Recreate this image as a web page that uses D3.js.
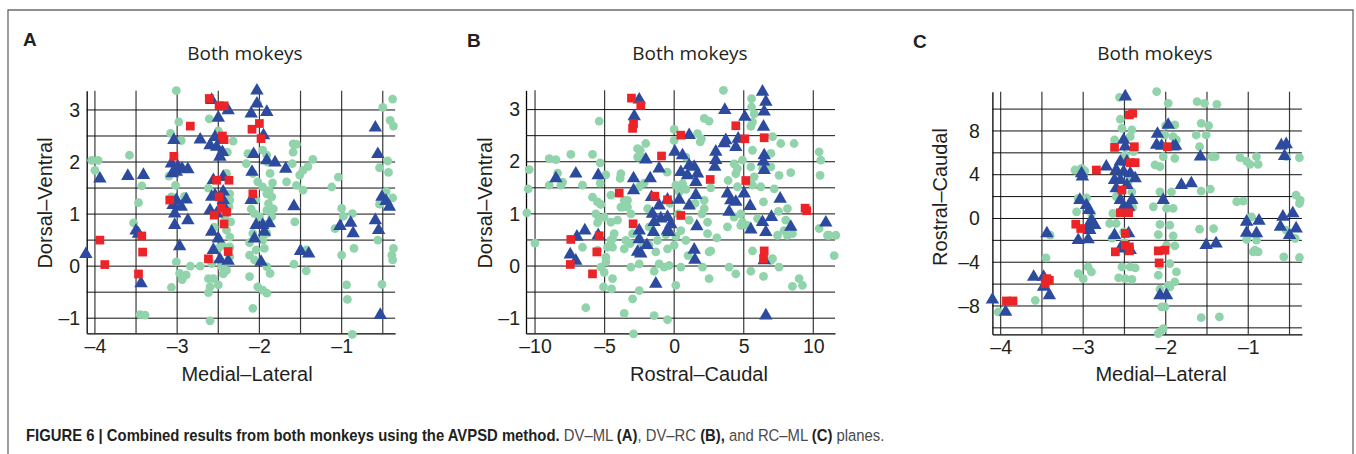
<!DOCTYPE html>
<html><head><meta charset="utf-8">
<script src="https://cdn.jsdelivr.net/npm/d3@7"></script>
<style>body{margin:0;background:#fff}svg{display:block}</style>
</head><body>
<svg id="chart" width="1356" height="454"></svg>
<script>
// ---------- Panel A : Medial-Lateral (x) vs Dorsal-Ventral (y) ----------
const greenA = [
[-4.04,2.03],[-3.96,2.03],[-4.0,1.84],[-3.58,2.13],[-3.43,1.54],[-3.47,1.22],[-3.53,0.83],[-3.45,-0.93],[-3.39,-0.94],
[-3.01,3.37],[-2.98,2.77],[-3.08,2.55],[-2.95,2.41],[-3.1,1.73],[-3.02,1.55],[-3.07,1.33],[-2.91,1.34],[-3.01,0.08],[-2.84,0.0],[-2.97,-0.14],[-2.89,-0.17],[-2.94,-0.26],[-3.07,-0.41],[-2.72,0.0],
[-2.61,2.83],[-2.5,2.6],[-2.39,2.19],[-2.62,-0.24],[-2.56,-0.24],[-2.6,-0.4],[-2.5,-0.36],[-2.62,-0.51],[-2.6,-1.05],[-2.46,-0.01],[-2.4,-0.08],[-2.36,0.18],[-2.36,0.37],[-2.36,0.56],[-2.4,0.69],[-2.36,1.39],[-2.36,1.27],[-2.37,1.14],[-2.4,1.78],[-2.62,1.5],[-2.42,0.95],[-2.55,0.75],[-2.45,0.4],[-2.5,0.34],[-2.35,0.85],[-2.58,0.05],[-2.44,-0.15],[-2.32,2.4],
[-2.02,3.12],[-1.96,2.23],[-1.91,2.13],[-2.14,2.16],[-2.16,1.97],[-2.08,1.78],[-1.87,1.78],[-2.02,1.62],[-1.96,1.52],[-1.91,1.39],[-1.85,1.33],[-2.04,1.27],[-1.89,1.2],[-1.91,1.07],[-2.06,1.01],[-2.0,0.95],[-1.85,0.95],[-2.08,0.63],[-1.96,0.5],[-1.91,0.63],[-2.04,0.31],[-1.94,0.34],[-2.12,0.21],[-2.06,0.12],[-1.91,-0.01],[-1.87,-0.14],[-2.12,-0.2],[-2.02,-0.4],[-1.96,-0.46],[-1.91,-0.52],[-2.08,-0.81],
[-1.84,1.6],[-1.88,1.45],[-2.1,1.1],[-1.92,0.8],[-1.83,1.1],[-2.12,0.45],[-1.9,2.0],[-2.08,2.16],
[-1.59,2.35],[-1.55,2.34],[-1.59,2.19],[-1.6,1.97],[-1.67,1.62],[-1.55,1.55],[-1.47,1.46],[-1.51,1.75],[-1.47,1.84],[-1.41,1.91],[-1.35,2.05],[-1.57,0.85],[-1.58,0.04],[-1.43,-0.09],[-1.43,0.31],
[-1.04,1.71],[-1.12,1.52],[-1.0,1.11],[-0.87,1.01],[-0.98,0.96],[-1.08,0.72],[-1.0,0.21],[-0.85,0.34],[-0.94,-0.36],[-0.93,-0.64],[-0.87,-1.31],
[-0.5,3.05],[-0.38,3.21],[-0.41,2.8],[-0.37,2.69],[-0.44,2.02],[-0.54,1.89],[-0.43,1.8],[-0.46,1.43],[-0.38,1.31],[-0.54,1.19],[-0.56,0.5],[-0.37,0.34],[-0.39,0.21],[-0.38,0.12],[-0.51,-0.35]
];
const blueA = [
[-4.11,0.23],[-3.94,1.68],[-3.6,1.73],[-3.41,1.75],[-3.5,0.68],[-3.47,0.62],[-3.44,-0.33],
[-3.04,2.42],[-2.72,2.43],[-3.07,1.97],[-2.99,1.91],[-2.94,1.87],[-2.87,1.86],[-3.06,1.78],[-3.01,1.81],[-3.01,1.27],[-3.05,1.17],[-2.95,1.14],[-2.89,1.28],[-3.03,1.01],[-2.87,0.88],[-3.03,0.79],[-2.97,0.38],
[-2.58,3.19],[-2.5,2.85],[-2.38,2.99],[-2.54,2.48],[-2.46,2.42],[-2.6,2.32],[-2.52,2.29],[-2.45,2.19],[-2.48,2.1],[-2.56,1.65],[-2.44,1.71],[-2.54,1.36],[-2.44,1.43],[-2.58,1.33],[-2.6,1.07],[-2.52,1.01],[-2.44,1.27],[-2.42,1.11],[-2.58,0.66],[-2.5,0.53],[-2.56,0.31],[-2.48,0.13],[-2.38,0.1],
[-2.03,3.37],[-2.03,3.12],[-2.1,2.93],[-1.91,2.96],[-1.95,2.51],[-2.07,2.15],[-2.09,1.81],[-1.91,2.03],[-1.81,1.99],[-1.68,1.87],[-2.1,1.27],[-2.04,0.79],[-1.96,0.79],[-1.88,0.82],[-1.94,0.66],[-2.06,0.53],[-1.98,0.08],
[-1.58,1.15],[-1.5,0.29],[-1.4,0.24],[-1.02,0.77],[-0.89,0.83],[-0.86,0.63],
[-0.59,2.66],[-0.56,2.15],[-0.51,1.33],[-0.46,1.25],[-0.42,1.14],[-0.59,0.88],[-0.55,0.69],[-0.53,-0.94]
];
const redA = [
[-3.94,0.5],[-3.88,0.03],[-3.43,0.58],[-3.42,0.27],[-3.47,-0.15],[-3.04,2.11],[-3.09,1.27],[-2.84,2.69],
[-2.61,3.22],[-2.49,3.08],[-2.43,3.08],[-2.45,2.5],[-2.43,2.43],[-2.52,1.65],[-2.37,1.65],[-2.49,1.33],[-2.46,1.11],[-2.4,1.04],[-2.55,0.98],[-2.43,0.81],[-2.38,0.28],[-2.62,0.14],
[-2.09,2.63],[-2.0,2.74],[-1.98,2.45],[-2.08,1.39]
];

// ---------- Panel B : Rostral-Caudal (x) vs Dorsal-Ventral (y) ----------
const greenB = [
[3.54,3.37],[5.56,3.21],[5.56,3.05],[5.75,2.92],[5.63,2.76],[5.51,2.68],[2.16,2.83],[2.51,2.78],[1.68,2.54],[1.96,2.44],[1.87,2.38],[0.0,2.62],[0.0,2.41],[-5.39,2.78],[-2.04,2.35],[-2.44,2.22],[-2.63,2.09],[-2.28,2.09],
[-8.98,2.06],[-8.5,2.04],[-7.43,2.14],[-5.87,2.14],[-5.32,1.98],[-10.42,1.85],[-10.49,1.48],[-10.59,1.02],[-10.01,0.44],[-8.98,1.55],[-8.02,1.61],[-8.38,1.78],[-8.14,1.55],[-6.59,1.55],[-5.32,1.59],[-4.91,1.75],[-3.83,1.77],[-3.88,1.68],
[-5.87,1.32],[-5.51,1.23],[-5.27,1.18],[-5.63,1.0],[-5.39,0.91],[-5.03,0.94],[-5.51,0.83],[-4.55,0.84],[-4.07,0.88],[-4.55,1.36],[-4.31,0.62],[-4.55,0.49],[-4.43,0.36],[-4.79,0.36],[-4.91,0.17],[-5.03,-0.12],[-5.08,-0.4],[-4.5,-0.44],[-4.43,-0.24],
[-3.47,0.49],[-3.59,0.33],[-3.35,1.13],[-3.71,1.13],[-3.35,1.26],[-3.11,1.0],[-2.99,0.62],[-3.16,0.43],[-3.11,-0.02],[-2.99,-0.63],[-2.92,-1.3],[-3.59,-0.91],[-6.35,-0.8],[-2.51,0.04],[-2.51,-0.47],
[-1.44,-0.1],[-1.08,0.04],[-0.72,-0.02],[-0.36,0.01],[-0.48,-1.03],[0.12,-0.37],[-1.44,-0.95],[0.0,0.4],[0.12,0.57],[0.48,0.68],[0.48,-0.02],[0.84,0.49],[0.48,1.52],[0.84,1.47],[0.6,1.58],
[2.16,1.26],[2.4,0.84],[2.4,0.62],[2.63,0.29],[2.51,-0.24],[3.07,0.54],[2.04,-0.02],[1.08,0.88],[3.95,-0.02],[4.43,-0.15],[5.51,-0.1],[5.63,0.29],[6.42,-0.2],[6.95,0.11],[7.54,-0.02],[8.5,-0.39],[8.98,-0.24],[9.22,-0.37],
[7.43,0.59],[7.9,0.68],[8.02,0.88],[8.14,1.1],[8.5,0.62],[7.54,1.74],[8.38,1.79],[7.66,2.35],[8.62,2.35],[7.07,2.48],[6.95,2.16],[6.95,1.9],[7.19,1.48],[5.75,1.71],[5.99,0.91],[6.23,1.52],[6.42,1.23],[4.79,1.0],[4.31,0.94],[4.91,0.84],
[4.31,1.96],[4.55,1.87],[4.91,2.03],[4.43,1.77],[4.55,1.52],[3.88,1.64],[10.42,2.19],[10.54,2.03],[10.49,1.74],[10.42,0.72],[11.02,0.59],[11.62,0.59],[11.5,0.2],[3.83,0.75],[0.84,2.09],[-2.51,1.52],[-2.16,1.59],[-2.63,2.25],
[-6.59,0.36],[-5.51,0.3],[-4.91,0.08],[-5.27,-0.02],[-4.43,0.52],[-2.51,0.52],[-2.28,0.4],[-0.48,0.33],[-1.2,0.49],[-1.8,0.4],[-1.32,0.27],[-3.59,1.26],[-3.83,1.13],
[-1.9,1.1],[-0.3,1.2],[-0.6,0.6],[-1.8,0.75],[-0.5,1.8],[0.3,1.0],[1.5,1.2],[2.0,1.0],[1.0,0.2],
[5.63,2.22],[6.35,1.87],[5.51,1.9],[5.27,1.61],[5.63,1.55],[2.63,1.5],[7.5,1.05],[8.14,0.59],[11.14,0.59],[7.07,0.14],[4.79,0.78],[5.27,0.78],[2.16,1.1],[0.12,1.55],[0.36,1.42],[2.51,0.27]
];
const blueB = [
[-2.51,3.19],[-2.87,2.87],[-8.5,1.68],[-7.07,1.77],[-5.46,1.74],[-2.92,1.68],[-2.92,1.45],[-1.72,1.68],[-2.04,2.04],[-1.08,1.87],
[-6.42,0.68],[-6.99,0.56],[-5.46,0.59],[-7.47,0.22],[-7.07,0.1],[-2.51,0.68],[-2.51,0.51],[-1.96,0.4],[-2.63,0.27],[-2.4,0.24],
[-1.63,1.32],[-1.08,1.16],[-1.56,1.0],[-0.96,0.91],[-1.44,0.84],[-0.48,0.94],[-0.24,0.8],[-0.48,0.68],[-1.49,0.65],[-0.36,0.65],[-1.32,-0.34],[-0.48,1.27],[0.36,1.27],
[1.08,1.16],[1.56,1.36],[1.63,0.76],[1.44,0.31],[1.49,0.12],[0.05,2.19],[0.6,2.12],[1.08,2.51],[0.48,1.8],[1.08,1.93],[1.44,1.9],[0.96,1.74],[1.68,1.77],[1.56,1.61],
[2.99,2.19],[2.99,2.03],[2.92,1.9],[3.59,2.35],[3.71,2.41],[3.64,2.99],[4.43,2.28],[4.6,2.44],[5.08,2.86],[3.83,1.39],[4.07,1.26],[4.43,1.23],[3.95,1.04],[5.03,1.39],[5.46,1.15],[5.51,0.7],
[6.35,3.34],[6.59,3.15],[6.47,2.96],[6.42,2.67],[6.47,2.12],[6.42,2.0],[6.47,1.84],[6.35,0.84],[6.59,0.65],[6.99,0.94],[7.62,1.29],[8.38,0.75],[10.9,0.83],[6.59,-0.95],[6.47,0.11]
];
const redB = [
[-3.07,3.22],[-2.4,3.08],[-2.92,2.73],[-2.99,2.64],[-0.91,2.11],[0.48,2.51],[-3.95,1.4],[-1.39,1.34],[-0.48,1.27],[0.48,0.97],[-2.95,0.81],
[-5.39,0.58],[-7.43,0.51],[-5.56,0.27],[-7.47,0.03],[-5.87,-0.15],[2.59,1.66],[4.43,2.69],[5.08,2.44],[6.47,2.46],[5.15,1.64],[9.41,1.11],[9.53,1.06],[6.47,0.29],[6.42,0.14]
];

// ---------- Panel C : Medial-Lateral (x) vs Rostral-Caudal (y) ----------
const greenC = [
[-2.11,11.6],[-2.56,11.08],[-1.97,10.53],[-1.62,10.69],[-1.53,10.53],[-1.38,10.44],[-2.55,9.07],[-2.53,8.24],[-2.41,8.09],[-2.62,7.18],[-2.43,7.48],[-2.49,5.8],[-2.39,6.11],
[-2.0,8.49],[-1.89,8.55],[-2.01,7.63],[-1.91,7.48],[-1.87,7.18],[-1.57,8.7],[-1.48,8.49],[-1.63,7.63],[-1.51,7.63],[-1.59,6.56],[-1.44,5.65],[-1.4,5.65],[-2.03,5.65],[-1.89,5.5],[-2.07,4.73],[-2.13,4.89],
[-1.1,5.56],[-1.02,5.25],[-0.9,5.65],[-0.98,4.95],[-0.88,4.95],[-0.54,5.65],[-0.38,5.56],
[-2.07,2.44],[-1.93,2.44],[-1.57,2.5],[-1.46,2.69],[-2.15,1.07],[-1.99,0.92],[-1.91,0.92],[-1.14,1.53],[-1.06,1.59],[-0.42,2.14],[-0.37,1.68],[-0.38,1.37],
[-2.07,-0.55],[-1.95,-0.61],[-2.09,-1.47],[-1.91,-1.59],[-1.99,-2.44],[-1.89,-2.5],[-1.59,-0.98],[-1.42,-0.92],[-0.92,-2.9],[-0.94,-3.05],[-0.88,-3.05],[-0.57,-3.51],[-0.38,-3.57],
[-2.07,-4.27],[-1.95,-4.12],[-1.87,-4.89],[-2.09,-5.19],[-1.89,-5.8],[-1.97,-6.11],[-2.07,-6.47],[-1.95,-6.26],[-2.05,-8.09],[-2.01,-8.09],[-1.57,-9.07],[-1.35,-9.0],[-2.09,-10.53],[-2.03,-10.08],[-2.07,-10.38],
[-3.1,4.43],[-3.02,4.58],[-2.98,4.34],[-3.06,1.83],[-2.96,1.89],[-3.08,0.61],[-2.9,0.46],[-3.06,-5.04],[-2.94,-4.43],[-3.0,-5.5],[-2.9,-4.89],
[-2.53,-4.43],[-2.43,-4.43],[-2.37,-4.52],[-2.57,-5.43],[-2.49,-5.5],[-2.41,-5.56],[-3.4,-1.53],[-3.45,-3.6],[-3.58,-7.48],[-4.03,-8.55],
[-2.68,-0.46],[-2.6,-0.46],[-2.64,0.46],[-2.51,-1.22],[-2.41,2.44],[-0.96,0.15],[-1.02,-1.92],[-0.9,-1.98],[-0.54,-1.07],[-0.43,-1.83],
[-2.45,3.4],[-2.6,2.0],[-2.4,1.0],[-2.5,-2.2],[-2.65,-1.8],[-2.55,2.4]
];
const blueC = [
[-2.49,11.15],[-2.51,7.18],[-2.49,6.56],[-2.1,7.73],[-1.97,8.55],[-2.11,6.72],[-2.05,6.63],[-1.91,6.56],[-1.88,6.63],[-1.58,5.65],[-0.6,6.66],[-0.54,6.78],[-0.56,5.71],
[-2.72,4.73],[-3.02,4.12],[-3.01,3.82],[-2.55,5.19],[-2.47,5.19],[-2.6,4.43],[-2.51,4.27],[-2.43,4.12],[-2.37,3.66],[-2.55,3.51],[-2.62,3.51],[-2.47,3.05],[-2.6,2.75],[-2.55,1.68],[-2.51,1.07],[-2.41,1.68],[-2.45,1.07],
[-3.04,1.68],[-2.96,1.22],[-2.93,0.76],[-2.9,-0.15],[-2.86,-0.61],[-2.94,-0.76],[-2.92,-1.07],[-3.06,-1.98],[-2.94,-1.92],[-3.44,-1.37],[-3.6,-5.34],[-3.48,-5.34],[-3.48,-6.26],[-3.41,-7.02],[-4.1,-7.42],[-3.94,-8.55],
[-2.62,-1.53],[-2.45,-1.37],[-2.43,-2.9],[-2.55,-2.75],[-2.03,1.68],[-2.07,-7.02],[-1.99,-7.02],[-1.81,3.05],[-1.69,3.2],[-1.51,-2.44],[-1.39,-2.29],
[-1.02,-0.31],[-0.87,-0.21],[-1.02,-1.31],[-0.9,-1.37],[-0.58,0.15],[-0.46,0.46],[-0.61,-0.76],[-0.5,-1.53],[-0.42,-0.92]
];
const redC = [
[-2.44,9.47],[-2.4,9.62],[-2.62,6.5],[-2.38,6.56],[-1.98,6.56],[-2.84,4.43],[-2.43,5.1],[-2.37,5.1],[-2.53,2.6],[-2.55,0.52],[-2.45,0.52],
[-3.09,-0.52],[-3.03,-0.92],[-2.49,-1.37],[-2.49,-2.44],[-2.44,-2.6],[-2.61,-3.05],[-2.44,-2.96],[-2.09,-2.96],[-2.01,-2.9],[-2.08,-4.06],
[-3.44,-5.5],[-3.41,-5.65],[-3.46,-5.95],[-3.93,-7.54],[-3.85,-7.54]
];

// ---------- axes: ticks and grid ----------
const xGridML = [-4,-3.5,-3,-2.5,-2,-1.5,-1,-0.5];
const xTicksML = [-4,-3,-2,-1];
const yGridDV = [-1,-0.5,0,0.5,1,1.5,2,2.5,3];
const yTicksDV = [-1,0,1,2,3];
const xGridRC = [-10,-5,0,5,10];
const xTicksRC = [-10,-5,0,5,10];
const yGridRC = [-10,-8,-6,-4,-2,0,2,4,6,8,10];
const yTicksRC = [-8,-4,0,4,8];

const panelLetters = ["A","B","C"];
const titles = ["Both mokeys","Both mokeys","Both mokeys"];
const xLabels = ["Medial\u2013Lateral","Rostral\u2013Caudal","Medial\u2013Lateral"];
const yLabels = ["Dorsal\u2013Ventral","Dorsal\u2013Ventral","Rostral\u2013Caudal"];

const COLORS = {green:"#91d4ac", blue:"#2d4b9e", red:"#ec2327"};

const panels = [
  {green:greenA, blue:blueA, red:redA, xd:[-4.1,-0.35], yd:[-1.29,3.37], xr:[86.7,395.1], yr:[333.3,90.7],
   xg:xGridML, yg:yGridDV, xt:xTicksML, yt:yTicksDV, letterX:23, letterY:46, titleX:245, xLabelX:247, yLabelX:51.7, yLabelY:203, yPad:6.5},
  {green:greenB, blue:blueB, red:redB, xd:[-10.65,11.56], yd:[-1.29,3.37], xr:[526,835], yr:[333.3,90.3],
   xg:xGridRC, yg:yGridDV, xt:xTicksRC, yt:yTicksDV, letterX:467, letterY:47, titleX:690, xLabelX:699, yLabelX:491.7, yLabelY:203, yPad:6},
  {green:greenC, blue:blueC, red:redC, xd:[-4.1,-0.35], yd:[-10.59,11.59], xr:[992.4,1301.9], yr:[334.3,91.7],
   xg:xGridML, yg:yGridRC, xt:xTicksML, yt:yTicksRC, letterX:913, letterY:48, titleX:1155, xLabelX:1161, yLabelX:946.7, yLabelY:197, yPad:12.5}
];

const svg = d3.select("#chart");

// outer frame (top, left, right)
svg.append("path").attr("d","M8,454 L8,10 L1353,10 L1353,454")
  .attr("fill","none").attr("stroke","#6a6a6a").attr("stroke-width",1.3);

const fmt = v => (v < 0 ? "\u2013" + Math.abs(v) : String(v));

panels.forEach((p, i) => {
  const x = d3.scaleLinear().domain(p.xd).range(p.xr);
  const y = d3.scaleLinear().domain(p.yd).range(p.yr);
  const g = svg.append("g");

  // grid
  g.append("g").selectAll("line").data(p.xg).join("line")
    .attr("x1", d => x(d)).attr("x2", d => x(d))
    .attr("y1", p.yr[1]).attr("y2", p.yr[0])
    .attr("stroke", "#3a3a3a").attr("stroke-width", 1.2);
  g.append("g").selectAll("line").data(p.yg).join("line")
    .attr("x1", p.xr[0]).attr("x2", p.xr[1])
    .attr("y1", d => y(d)).attr("y2", d => y(d))
    .attr("stroke", "#111").attr("stroke-width", 1);

  // axes
  const ax = g.append("g").attr("transform", `translate(0,${p.yr[0]})`)
    .call(d3.axisBottom(x).tickValues(p.xt).tickSize(0).tickPadding(6).tickFormat(fmt));
  const ay = g.append("g").attr("transform", `translate(${p.xr[0]},0)`)
    .call(d3.axisLeft(y).tickValues(p.yt).tickSize(0).tickPadding(p.yPad).tickFormat(fmt));
  [ax, ay].forEach(a => {
    a.select(".domain").attr("stroke", "#000").attr("stroke-width", 1.3);
    a.selectAll("text").attr("font-family", "'Liberation Sans', Arial, sans-serif")
      .attr("font-size", 19.5).attr("fill", "#231f20");
  });

  // points
  g.append("g").selectAll("circle").data(p.green).join("circle")
    .attr("cx", d => x(d[0])).attr("cy", d => y(d[1])).attr("r", 4.4)
    .attr("fill", COLORS.green);
  const tri = d3.symbol().type(d3.symbolTriangle).size(78);
  g.append("g").selectAll("path").data(p.blue).join("path")
    .attr("transform", d => `translate(${x(d[0])},${y(d[1])})`)
    .attr("d", tri).attr("fill", COLORS.blue);
  const sq = d3.symbol().type(d3.symbolSquare).size(76);
  g.append("g").selectAll("path").data(p.red).join("path")
    .attr("transform", d => `translate(${x(d[0])},${y(d[1])})`)
    .attr("d", sq).attr("fill", COLORS.red);

  // texts
  svg.append("text").attr("x", p.letterX).attr("y", p.letterY)
    .attr("font-family", "'Liberation Sans', Arial, sans-serif").attr("font-weight", "bold")
    .attr("font-size", 19).attr("fill", "#231f20").text(panelLetters[i]);
  svg.append("text").attr("x", p.titleX).attr("y", 60).attr("text-anchor", "middle")
    .attr("font-family", "'Open Sans', 'Noto Sans', sans-serif").attr("font-size", 19)
    .attr("fill", "#231f20").text(titles[i]);
  svg.append("text").attr("x", p.xLabelX).attr("y", 380.7).attr("text-anchor", "middle")
    .attr("font-family", "'Liberation Sans', Arial, sans-serif").attr("font-size", 20)
    .attr("fill", "#231f20").text(xLabels[i]);
  svg.append("text").attr("transform", `translate(${p.yLabelX},${p.yLabelY}) rotate(-90)`)
    .attr("text-anchor", "middle")
    .attr("font-family", "'Liberation Sans', Arial, sans-serif").attr("font-size", 20)
    .attr("fill", "#231f20").text(yLabels[i]);
});

// caption
const captionParts = [
  {t:"FIGURE 6 | Combined results from both monkeys using the AVPSD method.", b:true},
  {t:" DV\u2013ML ", b:false}, {t:"(A)", b:true}, {t:", DV\u2013RC ", b:false}, {t:"(B),", b:true},
  {t:" and RC\u2013ML ", b:false}, {t:"(C)", b:true}, {t:" planes.", b:false}
];
const capG = svg.append("g");
const cap = capG.append("text").attr("x", 0).attr("y", 0)
  .attr("font-family", "'Liberation Sans Narrow', 'Liberation Sans', Arial, sans-serif")
  .attr("font-size", 16.5);
cap.selectAll("tspan").data(captionParts).join("tspan")
  .attr("font-weight", d => d.b ? "bold" : "normal")
  .attr("fill", d => d.b ? "#231f20" : "#4a4a4a")
  .text(d => d.t);
const w = cap.node().getComputedTextLength();
const sx = 859 / w;
capG.attr("transform", `translate(26,441) scale(${sx},1)`);
</script>
</body></html>
